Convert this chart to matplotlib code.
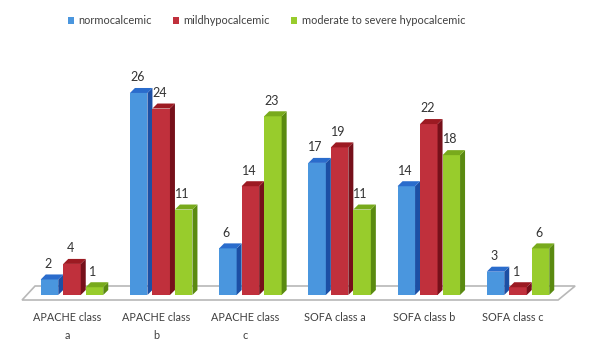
import numpy as np
import matplotlib.pyplot as plt
from matplotlib.patches import Polygon

categories = ["APACHE class\na", "APACHE class\nb", "APACHE class\nc",
              "SOFA class a", "SOFA class b", "SOFA class c"]
series_names = ["normocalcemic", "mildhypocalcemic", "moderate to severe hypocalcemic"]
normocalcemic = [2, 26, 6, 17, 14, 3]
mildhypocalcemic = [4, 24, 14, 19, 22, 1]
moderate_severe = [1, 11, 23, 11, 18, 6]

# front / top / side shades for each series
front_colors = ["#4a96de", "#c0303c", "#98cc2c"]
top_colors = ["#2a6ccc", "#9c1a22", "#78aa1c"]
side_colors = ["#1c4fa4", "#76101a", "#5a8a10"]

plt.rcParams["font.family"] = ["Lato", "DejaVu Sans"]

fig = plt.figure(figsize=(5.92, 3.49), dpi=100)
ax = fig.add_axes([0, 0, 1, 1])
ax.axis("off")

# pixel -> data scale: 89.2 px per group, 7.77 px per unit
px_x = 89.2
px_y = 7.77
ax.set_xlim(-72 / px_x, (592 - 72) / px_x)
ax.set_ylim(-54 / px_y, 295 / px_y)

n = len(categories)
x = np.arange(n)
width = 17.5 / px_x
pitch = 22.5 / px_x
dx = 5 / px_x
dy = 5 / px_y

# floor
floor_front = -5 / px_y
floor_back = 9 / px_y
floor = Polygon([(-0.56, floor_front), (n - 1 + 0.45, floor_front),
                 (n - 1 + 0.45 + 17 / px_x, floor_back), (-0.56 + 13 / px_x, floor_back)],
                closed=True, facecolor="#ffffff", edgecolor="#b8b8b8", lw=1.2, zorder=1)
ax.add_patch(floor)

series = [normocalcemic, mildhypocalcemic, moderate_severe]
for i, vals in enumerate(series):
    xs = x + (i - 1) * pitch
    ax.bar(xs, vals, width=width, color=front_colors[i], zorder=3 + i,
           label=series_names[i])
    for xc, v in zip(xs, vals):
        l, r = xc - width / 2, xc + width / 2
        side = Polygon([(r, 0), (r + dx, dy), (r + dx, v + dy), (r, v)],
                       closed=True, facecolor=side_colors[i], lw=0, zorder=3 + i)
        top = Polygon([(l, v), (l + dx, v + dy), (r + dx, v + dy), (r, v)],
                      closed=True, facecolor=top_colors[i], lw=0, zorder=3 + i)
        ax.add_patch(side)
        ax.add_patch(top)
        ax.text(xc - 1.5 / px_x, v + dy + 0.6, str(v), ha="center", va="bottom",
                fontsize=9, color="#333333", zorder=10)

for xc, lab in zip(x, categories):
    ax.text(xc - 5 / px_x, -17 / px_y, lab, ha="center", va="top",
            fontsize=7.8, color="#404040", linespacing=1.75)

handles, labels = ax.get_legend_handles_labels()
fig.legend(handles, labels, loc="upper center", bbox_to_anchor=(0.45, 0.985),
           ncol=3, frameon=False, fontsize=7.9, handlelength=0.55, handleheight=0.55,
           handletextpad=0.45, columnspacing=1.9, labelcolor="#404040")

fig.savefig("out.png", dpi=100)
